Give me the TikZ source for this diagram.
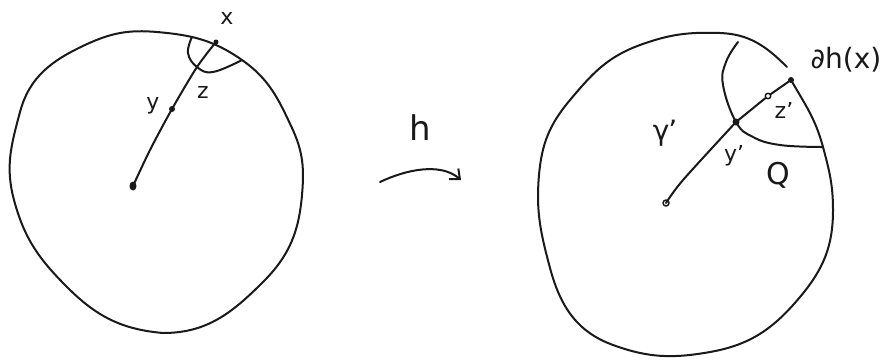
\documentclass[tikz,border=0pt]{standalone}
\usepackage{fontspec}
\setmainfont{DejaVu Sans}
\usetikzlibrary{arrows.meta,shapes.geometric}
\begin{document}
\begin{tikzpicture}[x=1pt,y=-1pt, line cap=round, line join=round,
  curve/.style={draw=black!90, line width=2pt},
  dotf/.style={circle, fill=black!90, inner sep=0pt, minimum size=6pt},
  doto/.style={circle, draw=black!90, fill=white, line width=1.5pt, inner sep=0pt, minimum size=6pt},
  lbl/.style={text=black!90, inner sep=0pt},
  small/.style={lbl, font=\fontsize{22}{22}\selectfont},
  big/.style={lbl, font=\fontsize{28}{28}\selectfont}]
\useasboundingbox (0,0) rectangle (888,360);

% ---------- left disc ----------
\draw[curve] (157,32) to[out=-5,in=145] (242,60) to[out=-35,in=115] (292,128)
  to[out=-65,in=85] (302,195) to[out=-95,in=45] (263,282)
  to[out=-135,in=0] (163,333) to[out=175,in=-45] (67,287)
  to[out=135,in=-75] (14,200) to[out=105,in=-105] (20,112)
  to[out=75,in=-155] (85,45) to[out=25,in=175] (157,32) -- cycle;

\coordinate (xL) at (216,42);
\coordinate (zL) at (197,67);
\node[dotf] (yL) at (172,109) {};
\node[ellipse, fill=black!90, inner sep=0pt, minimum width=7pt, minimum height=9pt] (oL) at (133,186) {};
\node[dotf, minimum size=5pt] (xdot) at (xL) {};

\draw[curve] plot[smooth, tension=0.7] coordinates {(192,37) (188,53) (197,67) (213,72) (242,60)};
\draw[curve] plot[smooth, tension=0.5] coordinates {(oL.center) (150,150) (yL.center) (zL) (xL)};

\node[small] (lx) at (227,18) {x};
\node[small] (ly) at (153,106) {y};
\node[small] (lz) at (203,92) {z};

% ---------- arrow ----------
\node[lbl, font=\fontsize{34}{34}\selectfont] (lh) at (420,128) {h};
\coordinate (a1) at (380,182);
\coordinate (a2) at (461,180);
\draw[curve, -{Straight Barb[length=8pt,width=14pt]}] (a1) .. controls (405,170) and (440,162) .. (a2);

% ---------- right disc ----------
\draw[curve] (791,80) to[out=-60,in=105] (823,147) to[out=-75,in=90] (833,210)
  to[out=-90,in=50] (800,297) to[out=-130,in=10] (710,352)
  to[out=190,in=-20] (613,345) to[out=160,in=-75] (550,268)
  to[out=105,in=-95] (539,175) to[out=85,in=-130] (570,100)
  to[out=50,in=-160] (640,45) to[out=20,in=178] (720,33)
  to[out=-2,in=135] (787,67);

\coordinate (yR) at (736,122);
\node[doto] (oR) at (666,203) {};
\node[doto, minimum size=5.5pt] (zR) at (768,96) {};
\node[dotf] (xR) at (791,80) {};
\node[dotf, minimum size=7pt] (yRdot) at (yR) {};

\draw[curve] plot[smooth, tension=0.7] coordinates {(738,42) (726,62) (723,85) (736,122) (753,137) (780,145) (822,147)};
\draw[curve] plot[smooth, tension=0.5] coordinates {(oR) (683,180) (yR)};
\draw[curve] (yR) -- (zR);
\draw[curve] (zR) -- (xR);

\node[lbl, font=\fontsize{28}{28}\selectfont] (ldh) at (846,60) {∂h(x)};
\node[big] (lg) at (665,133) {γ\kern-1pt'};
\node[small] (lyp) at (734,156) {y'};
\node[small] (lzp) at (784,110) {z'};
\node[lbl, font=\fontsize{30}{30}\selectfont] (lQ) at (778,175) {Q};
\end{tikzpicture}
\end{document}
